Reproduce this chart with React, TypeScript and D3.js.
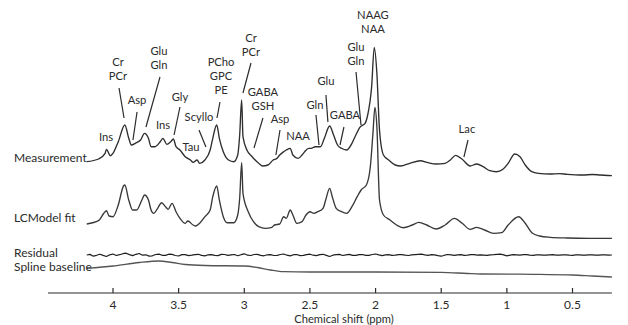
import React from "react";
import * as d3 from "d3";

// [ppm, intensity] (arbitrary units, 1 unit ~ 1px)
const measurement: [number, number][] = [
  [4.2, 13.3], [4.11, 16], [4.06, 21.7], [4.05, 25.7], [4.02, 19.3], [4.0, 21.7],
  [3.96, 33.3], [3.91, 50], [3.88, 36.7], [3.86, 30], [3.83, 31.7], [3.79, 35],
  [3.76, 41.7], [3.73, 36.7], [3.71, 28.3], [3.68, 28.3], [3.64, 33.3], [3.62, 36.7],
  [3.59, 30.7], [3.56, 33.3], [3.54, 36], [3.52, 28.3], [3.49, 25], [3.45, 18.3],
  [3.41, 15], [3.39, 12.7], [3.36, 15], [3.34, 11.7], [3.3, 15], [3.26, 25],
  [3.24, 36.7], [3.21, 50], [3.19, 36.7], [3.16, 23.3], [3.12, 15], [3.08, 13.3],
  [3.05, 20], [3.035, 40], [3.02, 75], [3.01, 38.3], [2.98, 25], [2.94, 18.3],
  [2.89, 11.7], [2.86, 9], [2.82, 10], [2.78, 15], [2.75, 16.7], [2.73, 20],
  [2.7, 23.3], [2.68, 25], [2.65, 26.7], [2.63, 20], [2.59, 16.7], [2.56, 20],
  [2.54, 23.3], [2.51, 26.7], [2.49, 26.7], [2.46, 28.3], [2.42, 28.3], [2.39, 36.7],
  [2.35, 49], [2.32, 40], [2.29, 30], [2.26, 26.7], [2.22, 25], [2.18, 31.7],
  [2.15, 40], [2.12, 47.7], [2.08, 51.7], [2.06, 60], [2.03, 88.3], [2.01, 127.7],
  [1.99, 101.7], [1.97, 45], [1.94, 20], [1.9, 15], [1.85, 10], [1.81, 9],
  [1.74, 11.7], [1.66, 14.3], [1.6, 12.3], [1.54, 11], [1.47, 11.7], [1.43, 15],
  [1.39, 19.7], [1.34, 15.7], [1.28, 9], [1.23, 11], [1.18, 8.3], [1.13, 4.3],
  [1.08, 3.3], [1.03, 5.7], [0.99, 11.7], [0.94, 21], [0.9, 18.3], [0.86, 10],
  [0.81, 3.3], [0.76, 1.7], [0.67, 1], [0.6, 1.4], [0.54, 0.7], [0.48, 0.2],
  [0.42, 0], [0.35, 0.5], [0.29, 0], [0.2, -0.7],
];

const lcmodelFit: [number, number][] = [
  [4.2, 14], [4.11, 17.3], [4.07, 24.7], [4.05, 27.3], [4.03, 22], [4.0, 21.3],
  [3.96, 33], [3.92, 52], [3.91, 53], [3.88, 38], [3.85, 28], [3.82, 28],
  [3.78, 38], [3.76, 43], [3.73, 38], [3.71, 28], [3.69, 24.7], [3.66, 29.7],
  [3.63, 35.3], [3.6, 31.3], [3.58, 28.7], [3.55, 34.7], [3.52, 26.3], [3.49, 19.7],
  [3.45, 14.7], [3.43, 17], [3.39, 13], [3.37, 12], [3.34, 14.7], [3.3, 21.3],
  [3.26, 28], [3.24, 41.3], [3.21, 52], [3.19, 38], [3.16, 21.3], [3.13, 15.3],
  [3.08, 15.3], [3.05, 23], [3.035, 40], [3.02, 75.3], [3.01, 44.7], [2.97, 26.3],
  [2.93, 16.3], [2.89, 11.3], [2.84, 9.7], [2.79, 10.7], [2.77, 13], [2.73, 14],
  [2.7, 21.3], [2.68, 19.7], [2.65, 28], [2.63, 23], [2.6, 14.7], [2.56, 16.3],
  [2.53, 23], [2.5, 26.3], [2.47, 24.7], [2.44, 26.3], [2.4, 29.7], [2.38, 38],
  [2.35, 49.7], [2.33, 41.3], [2.3, 29.7], [2.26, 26.3], [2.22, 24.7], [2.18, 31.3],
  [2.14, 41.3], [2.11, 48], [2.07, 53], [2.04, 71.3], [2.02, 104.7], [2.005, 130.7],
  [1.99, 111.3], [1.97, 38], [1.94, 23], [1.89, 18], [1.84, 13], [1.79, 10.3],
  [1.72, 13], [1.67, 15.7], [1.61, 13], [1.54, 9], [1.47, 13], [1.4, 19.7],
  [1.34, 14.7], [1.28, 8.7], [1.23, 10.7], [1.17, 8], [1.1, 4.7], [1.04, 5.3],
  [0.99, 13], [0.91, 21.3], [0.86, 14.7], [0.81, 5.3], [0.75, 2], [0.67, 0.7],
  [0.54, 0], [0.37, -0.3], [0.2, -0.3],
];

const residual: [number, number][] = [
  [4.2, 0], [4.175, 0.6], [4.15, -1.2], [4.125, -0.3], [4.1, 0.8], [4.075, -0.4], [4.05, -1.5],
  [4.025, 0.2], [4.0, 1.0], [3.975, -0.5], [3.95, 0.3], [3.925, 1.3], [3.9, 1.8], [3.875, 0.4],
  [3.85, -0.6], [3.825, 0.7], [3.8, 1.5], [3.775, -0.2], [3.75, 0.2], [3.725, -1.1], [3.7, -0.8],
  [3.675, 0.5], [3.65, 0.9], [3.625, -0.3], [3.6, -0.4], [3.575, 0.8], [3.55, 0.6], [3.525, -0.5],
  [3.5, -1.0], [3.475, 0.4], [3.45, 0.3], [3.425, -0.6], [3.4, -0.2], [3.375, 0.3], [3.35, 0.7],
  [3.325, -0.4], [3.3, -0.9], [3.275, 0.2], [3.25, 0.4], [3.225, -0.3], [3.2, -0.6], [3.175, 0.6],
  [3.15, 0.5], [3.125, -0.4], [3.1, 0.2], [3.075, 0.5], [3.05, -0.7], [3.025, 0.3], [3.0, 1.2],
  [2.975, -0.2], [2.95, -0.5], [2.925, 0.5], [2.9, 0.6], [2.875, -0.3], [2.85, -0.8], [2.825, 0.2],
  [2.8, 0.4], [2.775, -0.5], [2.75, -0.3], [2.725, 0.5], [2.7, 1.0], [2.675, -0.2], [2.65, -0.9],
  [2.625, 0.3], [2.6, 0.5], [2.575, -0.6], [2.55, -0.4], [2.525, 0.4], [2.5, 0.8], [2.475, -0.2],
  [2.45, -0.6], [2.425, 0.3], [2.4, 0.7], [2.375, -0.4], [2.35, -1.5], [2.325, -0.2], [2.3, 0.3],
  [2.275, 0.6], [2.25, -0.5], [2.225, 0.1], [2.2, 0.6], [2.175, -0.3], [2.15, -0.4], [2.125, 0.4],
  [2.1, 0.5], [2.075, -0.4], [2.05, -0.3], [2.025, 0.5], [2.0, 1.0], [1.975, 0.1], [1.95, -0.6],
  [1.925, 0.2], [1.9, 0.4], [1.875, -0.3], [1.85, -0.2], [1.825, 0.4], [1.8, 0.3], [1.775, -0.2],
  [1.75, -0.5], [1.725, 0.2], [1.7, 0.4], [1.675, 0.6], [1.65, 0.8], [1.625, 0.1], [1.6, -0.3],
  [1.575, 0.3], [1.55, 0.2], [1.525, -0.6], [1.5, -1.2], [1.475, -0.2], [1.45, 0.5], [1.425, 0.1],
  [1.4, -0.3], [1.375, 0.2], [1.35, 0.4], [1.325, -0.3], [1.3, -0.2], [1.275, 0.3], [1.25, 0.3],
  [1.225, -0.2], [1.2, 0.2], [1.175, -0.1], [1.15, -0.4], [1.125, 0.2], [1.1, 0.3], [1.075, 0.6],
  [1.05, 0.9], [1.025, 0.1], [1.0, -0.8], [0.975, -0.2], [0.95, 0.4], [0.925, 0.1], [0.9, -0.2],
  [0.875, 0.3], [0.85, 0.3], [0.825, -0.2], [0.8, -0.3], [0.775, 0.2], [0.75, 0.2], [0.725, -0.2],
  [0.7, -0.2], [0.675, 0.2], [0.65, 0.3], [0.625, -0.1], [0.6, -0.2], [0.575, 0.2], [0.55, 0.2],
  [0.525, -0.2], [0.5, -0.3], [0.475, 0.2], [0.45, 0.1], [0.425, -0.2], [0.4, -0.2], [0.375, 0.2],
  [0.35, 0.2], [0.325, -0.2], [0.3, -0.1], [0.275, 0.2], [0.25, 0.2], [0.225, -0.1], [0.2, 0],
];

const splineBaseline: [number, number][] = [
  [4.2, 3.7], [4.0, 6], [3.8, 9.5], [3.65, 11], [3.55, 9.5], [3.45, 7.5], [3.3, 6.5],
  [3.0, 6], [2.9, 4.5], [2.8, 2], [2.7, 0.3], [2.5, 0], [2.0, 0], [1.5, -0.3],
  [1.3, -1.5], [1.2, -2], [0.8, -2.3], [0.5, -3], [0.35, -4], [0.2, -5],
];

const traceNames = ["Measurement", "LCModel fit", "Residual", "Spline baseline"];
const traceOffsets = [118, 55, 38, 21];
const traceLabelLift = [13, 16, -2, 1];

const ticks = [4, 3.5, 3, 2.5, 2, 1.5, 1, 0.5];
const tickLabels = ["4", "3.5", "3", "2.5", "2", "1.5", "1", "0.5"];

// metabolite labels: text lines, label ppm/height, leader line [ppm, h, ppm, h]
const peakLabels: { text: string[]; ppm: number; h: number; lead?: number[] }[] = [
  { text: ["Ins"], ppm: 4.053, h: 38 },
  { text: ["Cr", "PCr"], ppm: 3.962, h: 113, lead: [3.954, 87, 3.916, 57] },
  { text: ["Asp"], ppm: 3.817, h: 75, lead: [3.817, 63, 3.848, 35] },
  { text: ["Glu", "Gln"], ppm: 3.65, h: 124, lead: [3.642, 98, 3.749, 48] },
  { text: ["Ins"], ppm: 3.619, h: 50 },
  { text: ["Gly"], ppm: 3.49, h: 78, lead: [3.49, 68, 3.535, 40] },
  { text: ["Scyllo"], ppm: 3.345, h: 58, lead: [3.345, 45, 3.292, 28] },
  { text: ["Tau"], ppm: 3.406, h: 28 },
  { text: ["PCho", "GPC", "PE"], ppm: 3.177, h: 113, lead: [3.185, 73, 3.208, 57] },
  { text: ["Cr", "PCr"], ppm: 2.949, h: 137, lead: [2.949, 112, 3.01, 82] },
  { text: ["GABA", "GSH"], ppm: 2.858, h: 83, lead: [2.858, 57, 2.926, 27] },
  { text: ["Asp"], ppm: 2.728, h: 56, lead: [2.728, 45, 2.759, 20] },
  { text: ["NAA"], ppm: 2.591, h: 39 },
  { text: ["Gln"], ppm: 2.462, h: 70, lead: [2.454, 60, 2.431, 30] },
  { text: ["Glu"], ppm: 2.378, h: 94, lead: [2.378, 80, 2.363, 53] },
  { text: ["GABA"], ppm: 2.233, h: 60, lead: [2.241, 48, 2.271, 30] },
  { text: ["Glu", "Gln"], ppm: 2.149, h: 128, lead: [2.149, 103, 2.111, 50] },
  { text: ["NAAG", "NAA"], ppm: 2.02, h: 160 },
  { text: ["Lac"], ppm: 1.304, h: 46, lead: [1.296, 35, 1.327, 18] },
];

const W = 628;
const H = 325;
const FONT = "Lato, 'Open Sans', sans-serif";
const INK = "#2b2b2b";

export default function App() {
  const x = d3.scaleLinear().domain([4, 0.5]).range([113, 572.5]);
  const y = d3.scaleLinear().domain([0, 250]).range([293, 43]);
  const axisY = y(0);

  const makeLine = (offset: number, curve: d3.CurveFactory) =>
    d3
      .line<[number, number]>()
      .x((d) => x(d[0]))
      .y((d) => y(d[1] + offset))
      .curve(curve);

  const series = [
    { data: measurement, curve: d3.curveMonotoneX, color: "#2e2e2e", width: 1.35 },
    { data: lcmodelFit, curve: d3.curveMonotoneX, color: "#383838", width: 1.35 },
    { data: residual, curve: d3.curveLinear, color: "#1e1e1e", width: 1.2 },
    { data: splineBaseline, curve: d3.curveMonotoneX, color: "#555", width: 1.3 },
  ];

  const lineH = 14;
  const measOff = traceOffsets[0];

  return (
    <svg
      width={W}
      height={H}
      style={{ position: "absolute", left: 0, top: 0, background: "#fff" }}
      fontFamily={FONT}
    >
      {series.map((s, i) => (
        <path
          key={traceNames[i]}
          d={makeLine(traceOffsets[i], s.curve)(s.data) || ""}
          fill="none"
          stroke={s.color}
          strokeWidth={s.width}
          strokeLinejoin="round"
        />
      ))}

      {traceNames.map((name, i) => (
        <text key={name} x={14} y={y(traceOffsets[i] + traceLabelLift[i])} fontSize={12} fill={INK}>
          {name}
        </text>
      ))}

      {/* metabolite annotations */}
      {peakLabels.map((p, i) => (
        <g key={i}>
          {p.text.map((t, j) => (
            <text
              key={t}
              x={x(p.ppm)}
              y={y(measOff + p.h) + 4 + j * lineH}
              textAnchor="middle"
              fontSize={11.2}
              fill={INK}
            >
              {t}
            </text>
          ))}
          {p.lead && (
            <line
              x1={x(p.lead[0])}
              y1={y(measOff + p.lead[1])}
              x2={x(p.lead[2])}
              y2={y(measOff + p.lead[3])}
              stroke={INK}
              strokeWidth={1.2}
            />
          )}
        </g>
      ))}

      {/* ppm axis */}
      <line x1={x(4.495)} x2={x(0.2)} y1={axisY} y2={axisY} stroke={INK} strokeWidth={1.2} />
      {ticks.map((t, i) => (
        <g key={t}>
          <line x1={x(t)} x2={x(t)} y1={axisY} y2={axisY - 5} stroke={INK} strokeWidth={1.2} />
          <text x={x(t)} y={axisY + 16} textAnchor="middle" fontSize={12} fill={INK}>
            {tickLabels[i]}
          </text>
        </g>
      ))}
      <text x={344} y={axisY + 30} textAnchor="middle" fontSize={11.2} fill={INK}>
        Chemical shift (ppm)
      </text>
    </svg>
  );
}
